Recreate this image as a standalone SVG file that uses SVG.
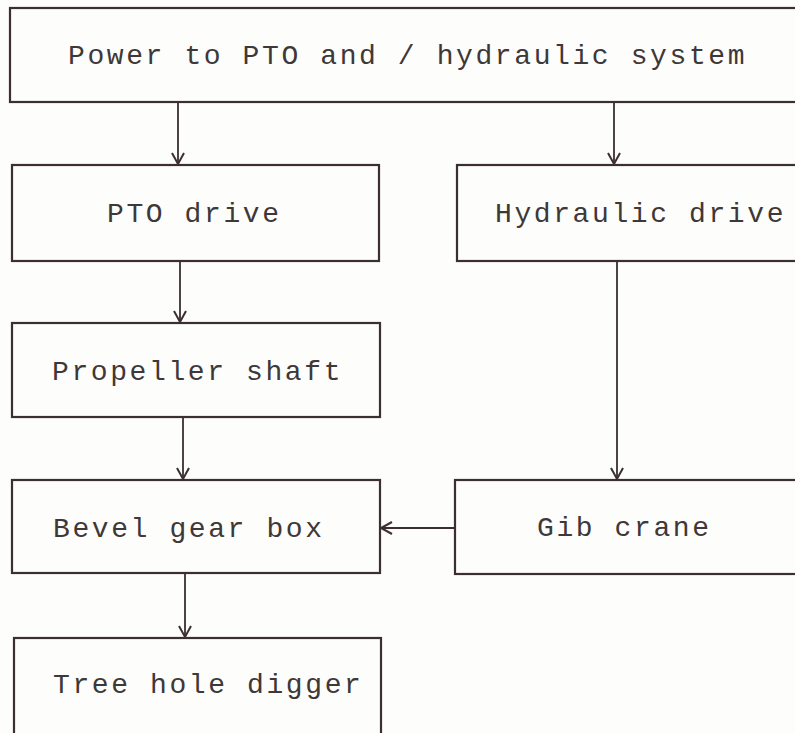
<svg xmlns="http://www.w3.org/2000/svg" width="795" height="733" viewBox="0 0 795 733">
<style>
.box{fill:none;stroke:#3b2f30;stroke-width:2.2}
.lbl{font-family:"Liberation Mono","DejaVu Sans Mono",monospace;font-size:28px;letter-spacing:2.6px;fill:#3e3838}
.con{fill:none;stroke:#3b2f30;stroke-width:1.8}
</style>
<defs>
<marker id="arr" markerUnits="userSpaceOnUse" markerWidth="16" markerHeight="16" viewBox="-13 -8 16 16" refX="0" refY="0" orient="auto">
<path d="M-11,-6 L0,0 L-11,6" fill="none" stroke="#3b2f30" stroke-width="2"/>
</marker>
</defs>
<rect width="795" height="733" fill="#fdfdfb"/>
<g id="power">
<rect class="box" x="10" y="8" width="800" height="94"/>
<text class="lbl" x="68" y="64">Power to PTO and / hydraulic system</text>
</g>
<g id="pto">
<rect class="box" x="12" y="165" width="367" height="96"/>
<text class="lbl" x="107" y="222">PTO drive</text>
</g>
<g id="hydraulic">
<rect class="box" x="457" y="165" width="350" height="96"/>
<text class="lbl" x="495" y="222">Hydraulic drive</text>
</g>
<g id="propeller">
<rect class="box" x="12" y="323" width="368" height="94"/>
<text class="lbl" x="52" y="380">Propeller shaft</text>
</g>
<g id="bevel">
<rect class="box" x="12" y="480" width="368" height="93"/>
<text class="lbl" x="53" y="537">Bevel gear box</text>
</g>
<g id="gib">
<rect class="box" x="455" y="480" width="352" height="94"/>
<text class="lbl" x="537" y="536">Gib crane</text>
</g>
<g id="tree">
<rect class="box" x="14" y="638" width="367" height="110"/>
<text class="lbl" x="53" y="693">Tree hole digger</text>
</g>
<g id="connectors">
<line class="con" x1="178" y1="102" x2="178" y2="164" marker-end="url(#arr)"/>
<line class="con" x1="614" y1="102" x2="614" y2="164" marker-end="url(#arr)"/>
<line class="con" x1="180" y1="261" x2="180" y2="322" marker-end="url(#arr)"/>
<line class="con" x1="617" y1="261" x2="617" y2="479" marker-end="url(#arr)"/>
<line class="con" x1="183" y1="417" x2="183" y2="479" marker-end="url(#arr)"/>
<line class="con" x1="455" y1="528" x2="381" y2="528" marker-end="url(#arr)"/>
<line class="con" x1="185" y1="573" x2="185" y2="637" marker-end="url(#arr)"/>
</g>
</svg>
